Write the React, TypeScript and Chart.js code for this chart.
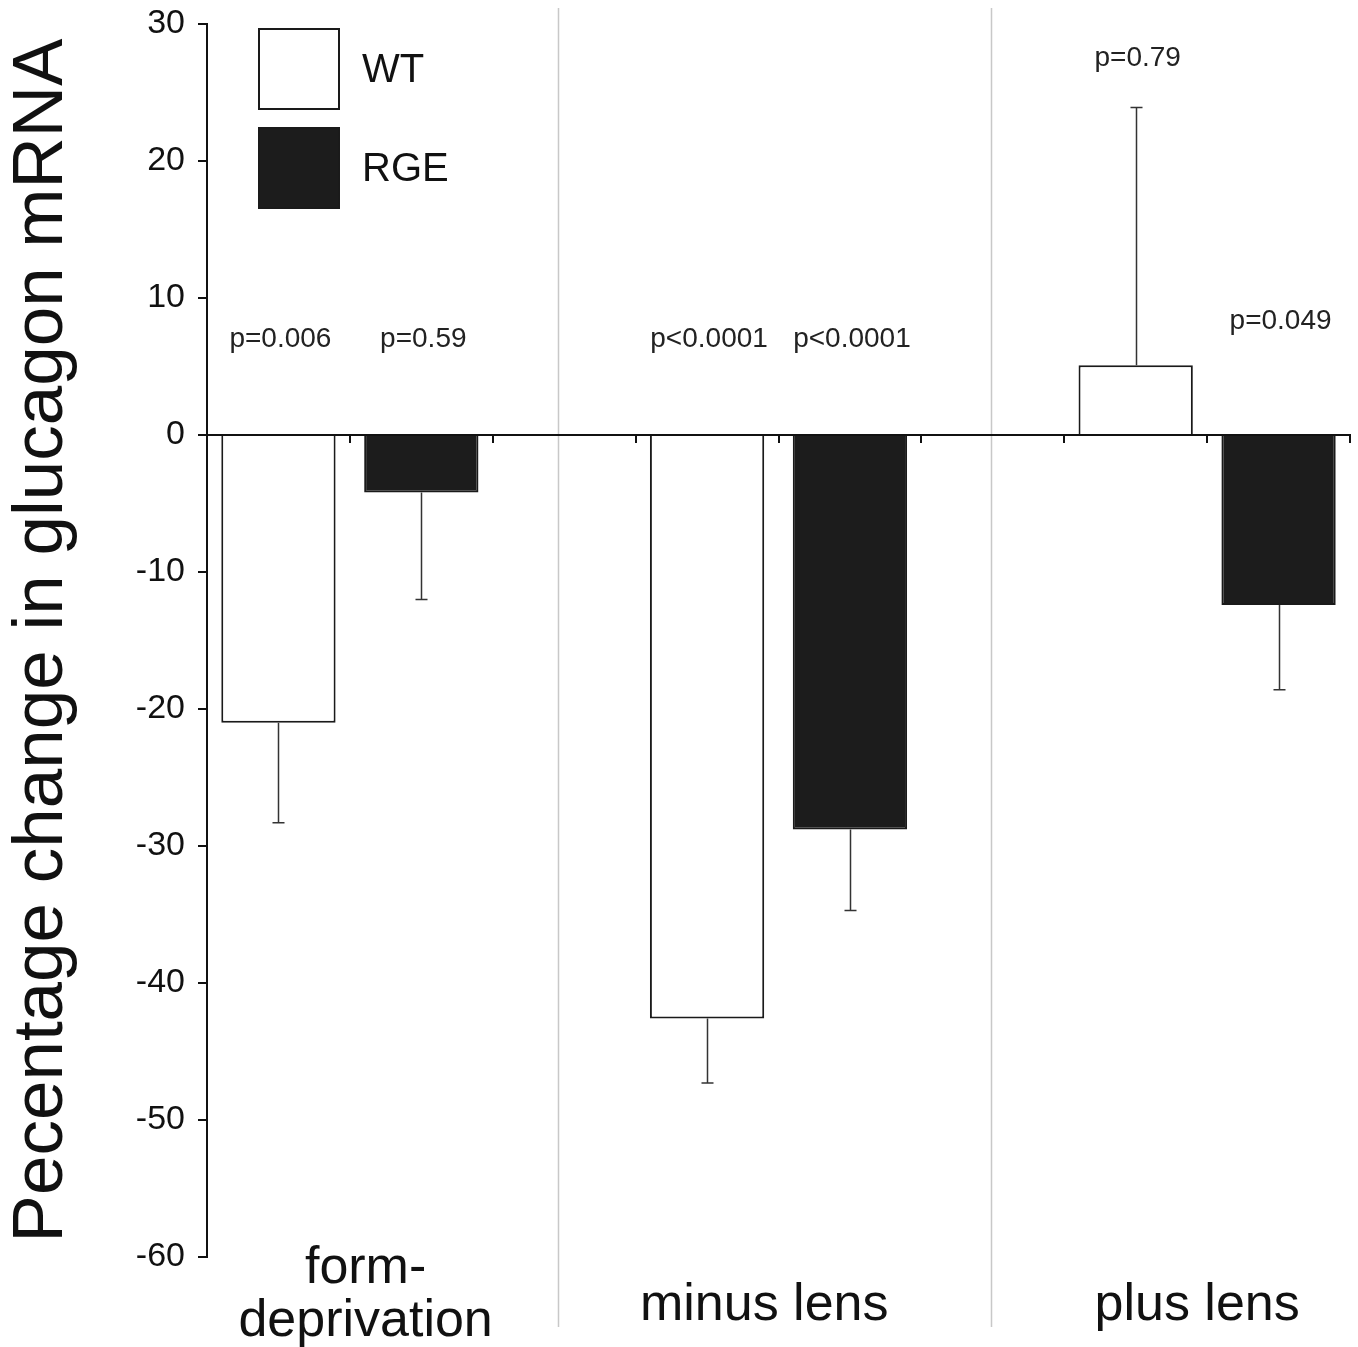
import React, { useEffect, useRef } from 'react';
import { Chart, registerables } from 'chart.js';

Chart.register(...registerables);

// ---- data ----
const groups: string[][] = [['form-', 'deprivation'], ['minus lens'], ['plus lens']];
const seriesNames = ['WT', 'RGE'];
const wtMeans = [-21.0, -42.6, 5.1];
const rgeMeans = [-4.2, -28.8, -12.4];
const wtSd = [7.3, 4.7, 18.8];
const rgeSd = [7.8, 5.9, 6.2];
const wtP = ['p=0.006', 'p<0.0001', 'p=0.79'];
const rgeP = ['p=0.59', 'p<0.0001', 'p=0.049'];
const wtPY = [7, 7, 27.5];
const rgePY = [7, 7, 8.3];
const yMin = -60;
const yMax = 30;
const yStep = 10;
const yTitle = 'Pecentage change in glucagon mRNA';
// group label centres and separators, in slot units of the category axis
const groupLabelPos = [0.61, 3.4, 6.43];
const separatorPos = [1.96, 4.99];

// ---- slot layout: WT, RGE, spacer per group (no trailing spacer) ----
const slotCount = groups.length * 3 - 1;
const slotLabels: string[] = Array.from({ length: slotCount }, (_, i) => {
  const g = Math.floor(i / 3);
  const k = i % 3;
  return k === 2 ? '' : `${groups[g].join('')} ${seriesNames[k]}`;
});
const toSlots = (vals: (number | string)[], offset: number) => {
  const arr: any[] = Array(slotCount).fill(null);
  vals.forEach((v, g) => { arr[g * 3 + offset] = v; });
  return arr;
};
const wtData = toSlots(wtMeans, 0);
const rgeData = toSlots(rgeMeans, 1);
const errSlots = [toSlots(wtSd, 0), toSlots(rgeSd, 1)];
const pSlots = [toSlots(wtP, 0), toSlots(rgeP, 1)];
const pYSlots = [toSlots(wtPY, 0), toSlots(rgePY, 1)];

const FONT = '"Liberation Sans", Arial, Helvetica, sans-serif';
const INK = '#111111';

const decor = {
  id: 'decor',
  beforeDatasetsDraw(chart: any) {
    const { ctx, chartArea, scales } = chart;
    const x = scales.x;
    ctx.save();
    ctx.strokeStyle = '#c8c8c8';
    ctx.lineWidth = 1.5;
    separatorPos.forEach((p) => {
      const px = Math.round(x.getPixelForValue(p)) + 0.5;
      ctx.beginPath();
      ctx.moveTo(px, chartArea.top - 16);
      ctx.lineTo(px, chartArea.bottom + 70);
      ctx.stroke();
    });
    ctx.restore();
  },
  afterDatasetsDraw(chart: any) {
    const { ctx, scales, chartArea } = chart;
    const y = scales.y;
    const x = scales.x;
    ctx.save();
    // error bars (one-sided, away from zero) and p-values
    chart.data.datasets.forEach((ds: any, di: number) => {
      const meta = chart.getDatasetMeta(di);
      ds.data.forEach((v: number | null, j: number) => {
        if (v === null || v === undefined) return;
        const sd = errSlots[di][j];
        const bar = meta.data[j];
        if (sd !== null && bar) {
          const tipVal = v >= 0 ? v + sd : v - sd;
          const tip = y.getPixelForValue(tipVal);
          const bx = Math.round(bar.x) + 0.5;
          ctx.strokeStyle = '#333333';
          ctx.lineWidth = 1.5;
          ctx.beginPath();
          ctx.moveTo(bx, bar.y);
          ctx.lineTo(bx, tip);
          ctx.moveTo(bx - 6, tip);
          ctx.lineTo(bx + 6, tip);
          ctx.stroke();
        }
        const label = pSlots[di][j];
        if (label && bar) {
          ctx.fillStyle = '#222222';
          ctx.font = `28px ${FONT}`;
          ctx.textAlign = 'center';
          ctx.textBaseline = 'middle';
          ctx.fillText(label, bar.x + 2, y.getPixelForValue(pYSlots[di][j]));
        }
      });
    });
    // group labels under the plot
    ctx.fillStyle = INK;
    ctx.font = `52px ${FONT}`;
    ctx.textAlign = 'center';
    ctx.textBaseline = 'alphabetic';
    groups.forEach((lines, g) => {
      const cx = x.getPixelForValue(groupLabelPos[g]);
      if (lines.length === 1) {
        ctx.fillText(lines[0], cx, chartArea.bottom + 63);
      } else {
        lines.forEach((ln, k) => ctx.fillText(ln, cx, chartArea.bottom + 26 + k * 53));
      }
    });
    // legend
    const lx = chartArea.left + 52;
    const ly = chartArea.top + 5;
    const size = 80;
    const gap = 99;
    chart.data.datasets.forEach((ds: any, i: number) => {
      const by = ly + i * gap;
      ctx.fillStyle = ds.backgroundColor;
      ctx.fillRect(lx, by, size, size);
      ctx.strokeStyle = ds.borderColor;
      ctx.lineWidth = 2;
      ctx.strokeRect(lx, by, size, size);
      ctx.fillStyle = INK;
      ctx.font = `40px ${FONT}`;
      ctx.textAlign = 'left';
      ctx.textBaseline = 'middle';
      ctx.fillText(ds.label, lx + size + 23, by + size / 2 + 2);
    });
    ctx.restore();
  },
};

export default function App() {
  const ref = useRef<HTMLCanvasElement>(null);
  useEffect(() => {
    const canvas = ref.current;
    if (!canvas) return;
    const chart = new Chart(canvas, {
      type: 'bar',
      data: {
        labels: slotLabels,
        datasets: [
          {
            label: seriesNames[0],
            data: wtData,
            backgroundColor: '#ffffff',
            borderColor: '#1a1a1a',
            borderWidth: 2,
            grouped: false,
            barPercentage: 0.8,
            categoryPercentage: 1,
            xAxisID: 'x',
            yAxisID: 'y',
          },
          {
            label: seriesNames[1],
            data: rgeData,
            backgroundColor: '#1c1c1c',
            borderColor: '#1a1a1a',
            borderWidth: 2,
            grouped: false,
            barPercentage: 0.8,
            categoryPercentage: 1,
            xAxisID: 'x',
            yAxisID: 'y',
          },
        ],
      } as any,
      options: {
        responsive: false,
        animation: false,
        devicePixelRatio: 1,
        layout: { padding: { left: 0, top: 24, right: 8, bottom: 90 } },
        plugins: { legend: { display: false }, tooltip: { enabled: false } },
        scales: {
          x: {
            type: 'category',
            position: { y: 0 },
            offset: true,
            grid: { offset: true, drawOnChartArea: false, drawTicks: true, tickLength: 7, color: INK, lineWidth: 2 },
            border: { display: true, color: INK, width: 2, z: 1 },
            ticks: { display: false },
          },
          y: {
            type: 'linear',
            position: 'left',
            min: yMin,
            max: yMax,
            afterFit: (s: any) => {
              s.width = 207;
              s.paddingTop = 0;
              s.paddingBottom = 0;
            },
            grid: { drawOnChartArea: false, drawTicks: true, tickLength: 9, color: INK, lineWidth: 2 },
            border: { display: true, color: INK, width: 2 },
            ticks: { stepSize: yStep, padding: 13, color: INK, font: { family: FONT, size: 34 } },
            title: {
              display: true,
              text: yTitle,
              color: INK,
              padding: 0,
              font: { family: FONT, size: 71, lineHeight: 1.2 },
            },
          },
        },
      } as any,
      plugins: [decor],
    });
    return () => chart.destroy();
  }, []);

  return (
    <div style={{ position: 'absolute', left: 0, top: 0, width: 1358, height: 1347, background: '#ffffff' }}>
      <canvas ref={ref} width={1358} height={1347} style={{ display: 'block' }} />
    </div>
  );
}
